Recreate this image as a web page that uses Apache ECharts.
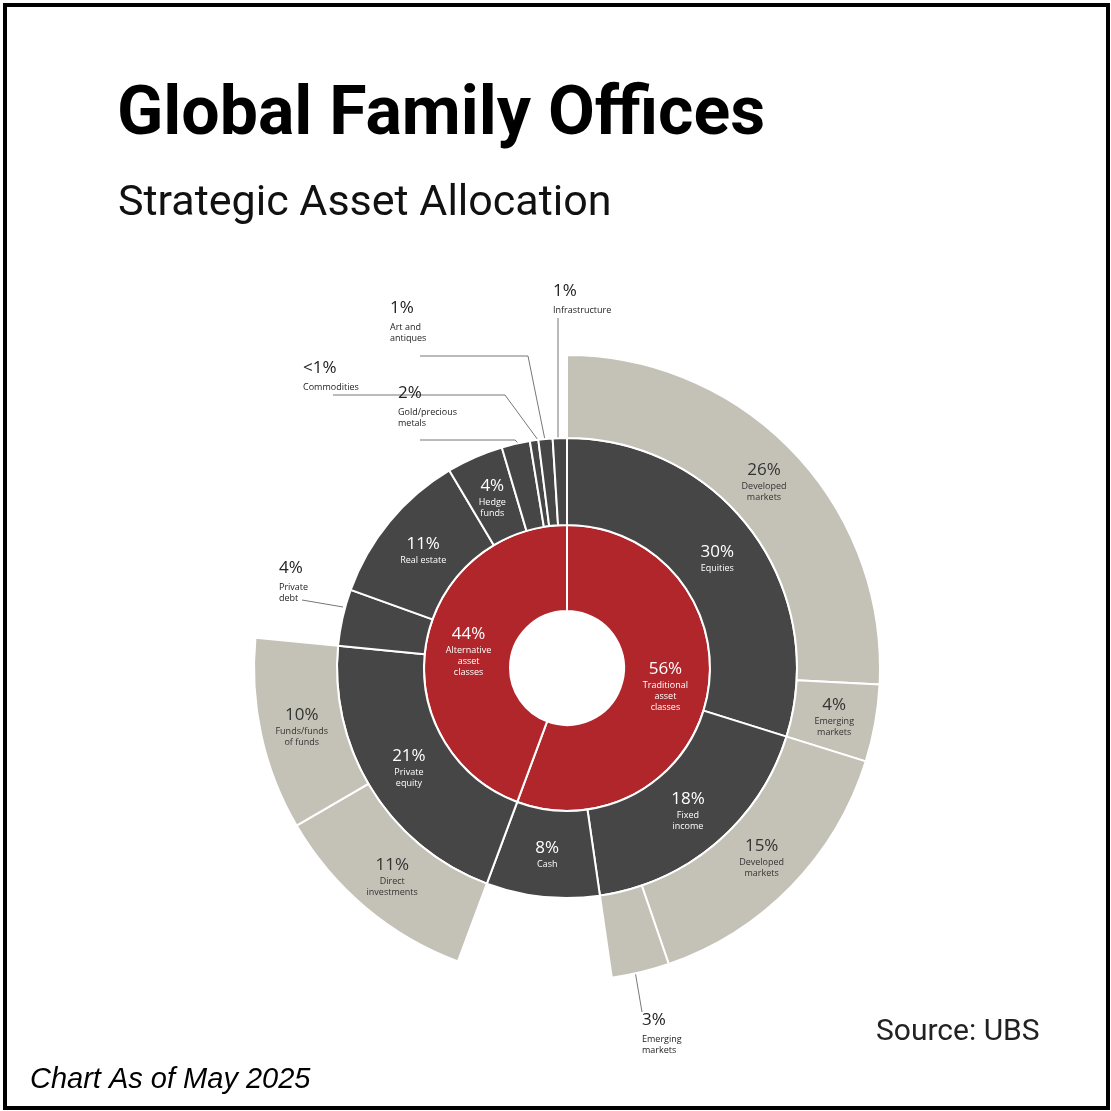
<!DOCTYPE html>
<html><head><meta charset="utf-8">
<script src="https://cdn.jsdelivr.net/npm/echarts@6/dist/echarts.min.js"></script>
<style>
html,body{margin:0;padding:0;background:#fff}
#box{position:absolute;left:3px;top:3px;width:1099px;height:1099px;border:4px solid #000}
#chart{width:1111px;height:1111px}
</style></head>
<body><div id="box"></div><div id="chart"></div>
<script>
// inner ring
var groups = ['Traditional\nasset\nclasses', 'Alternative\nasset\nclasses'];
var groupPct = ['56%', '44%'];
// middle ring (group index, name, value, label)
var midGroup = [0, 0, 0, 1, 1, 1, 1, 1, 1, 1, 1];
var midNames = ['Equities', 'Fixed\nincome', 'Cash', 'Private\nequity', 'Private\ndebt', 'Real estate', 'Hedge\nfunds', 'Gold/precious metals', 'Commodities', 'Art and antiques', 'Infrastructure'];
var midValues = [30, 18, 8, 21, 4, 11, 4, 2, 0.6, 1, 1];
var midPct = ['30%', '18%', '8%', '21%', '4%', '11%', '4%', '2%', '<1%', '1%', '1%'];
var midInside = [true, true, true, true, false, true, true, false, false, false, false];
// outer ring (middle index, name, value, label)
var outerParent = [0, 0, 1, 1, 3, 3];
var outerNames = ['Developed\nmarkets', 'Emerging\nmarkets', 'Developed\nmarkets', 'Emerging\nmarkets', 'Direct\ninvestments', 'Funds/funds\nof funds'];
var outerValues = [26, 4, 15, 3, 11, 10];
var outerPct = ['26%', '4%', '15%', '3%', '11%', '10%'];
var outerInside = [true, true, true, false, true, true];

var RED = '#b0262a', DARK = '#464646', BEIGE = '#c4c1b7';

function lab(pct, name, col) {
    return {
        show: true, rotate: 0, align: 'center',
        formatter: '{p|' + pct + '}\n{n|' + name + '}',
        rich: {
            p: {fontSize: 17, color: col, fontFamily: 'Open Sans', lineHeight: 22, align: 'center'},
            n: {fontSize: 9, color: col, fontFamily: 'Open Sans', lineHeight: 11, align: 'center'}
        }
    };
}

var data = groups.map(function (g, gi) {
    var kids = [];
    midNames.forEach(function (m, mi) {
        if (midGroup[mi] !== gi) return;
        var outs = [];
        outerNames.forEach(function (o, oi) {
            if (outerParent[oi] !== mi) return;
            outs.push({
                name: o, value: outerValues[oi],
                itemStyle: {color: BEIGE},
                label: outerInside[oi] ? lab(outerPct[oi], o, '#333') : {show: false}
            });
        });
        var node = {
            name: m, value: midValues[mi],
            itemStyle: {color: DARK},
            label: midInside[mi] ? lab(midPct[mi], m, '#fff') : {show: false}
        };
        if (outs.length) node.children = outs;
        kids.push(node);
    });
    return {name: g, itemStyle: {color: RED}, label: lab(groupPct[gi], g, '#fff'), children: kids};
});

// callouts for small segments
function callout(x, y, pct, name, pts) {
    return [
        {type: 'text', left: x, top: y, style: {text: pct, font: '17px "Open Sans"', fill: '#222'}},
        {type: 'text', left: x, top: y + 22, style: {text: name, font: '9px "Open Sans"', fill: '#222', lineHeight: 11}},
        {type: 'polyline', shape: {points: pts}, style: {stroke: '#777', lineWidth: 1, fill: null}}
    ];
}
var g = [];
g = g.concat(callout(553, 283, '1%', 'Infrastructure', [[558, 318], [558, 440]]));
g = g.concat(callout(390, 300, '1%', 'Art and\nantiques', [[420, 356], [528, 356], [545, 440]]));
g = g.concat(callout(303, 360, '<1%', 'Commodities', [[333, 395], [505, 395], [538, 440]]));
g = g.concat(callout(398, 385, '2%', 'Gold/precious\nmetals', [[420, 440], [515, 440], [519, 444]]));
g = g.concat(callout(279, 560, '4%', 'Private\ndebt', [[302, 600], [343, 607]]));
g = g.concat(callout(642, 1012, '3%', 'Emerging\nmarkets', [[642, 1012], [634, 965]]));

var chart = echarts.init(document.getElementById('chart'));
chart.setOption({
    animation: false,
    title: [
        {text: 'Global Family Offices', left: 112, top: 78, textStyle: {fontFamily: 'Roboto', fontWeight: 'bold', fontSize: 68, color: '#000'}},
        {text: 'Strategic Asset Allocation', left: 113, top: 178, textStyle: {fontFamily: 'Roboto', fontWeight: 'normal', fontSize: 43, color: '#111'}},
        {text: 'Source: UBS', left: 871, top: 1012, textStyle: {fontFamily: 'Roboto', fontWeight: 'normal', fontSize: 30, color: '#222'}},
        {text: 'Chart As of May 2025', left: 25, top: 1060, textStyle: {fontFamily: 'Liberation Sans', fontStyle: 'italic', fontWeight: 'normal', fontSize: 29, color: '#000'}}
    ],
    graphic: g,
    series: {
        type: 'sunburst',
        center: [567, 668],
        radius: [57, 313],
        startAngle: 90,
        clockwise: true,
        sort: null,
        nodeClick: false,
        emphasis: {disabled: true},
        itemStyle: {borderColor: '#fff', borderWidth: 2},
        levels: [
            {},
            {r0: 57, r: 143},
            {r0: 143, r: 230},
            {r0: 230, r: 313}
        ],
        data: data
    }
});
</script></body></html>
